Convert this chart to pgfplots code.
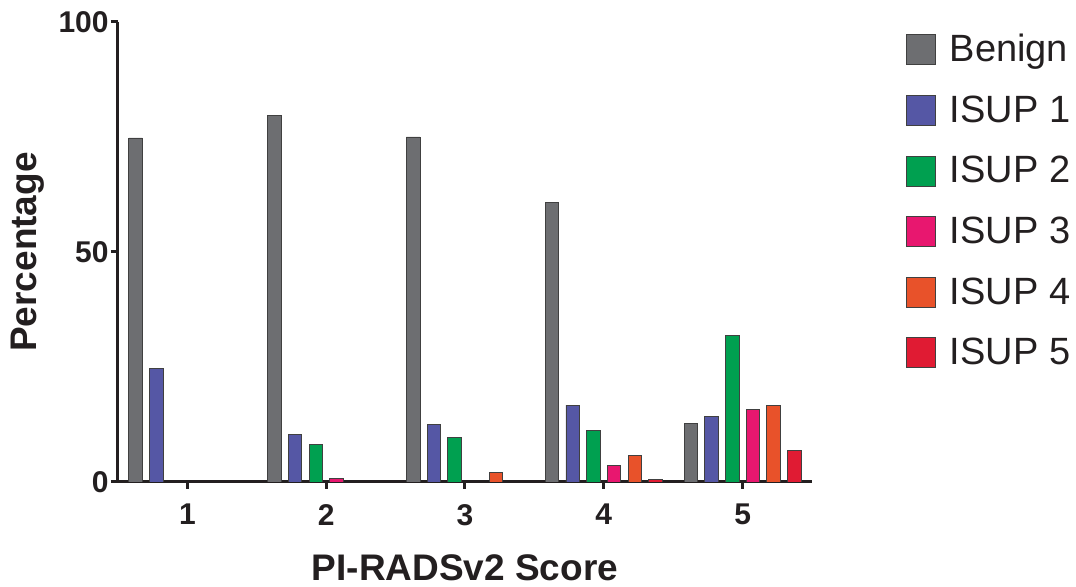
\documentclass[border=0pt]{standalone}
\usepackage{fontspec}
\setmainfont{Liberation Sans}
\usepackage{pgfplots}
\pgfplotsset{compat=1.18}
\definecolor{cBen}{HTML}{6D6E71}
\definecolor{cI1}{HTML}{5557A5}
\definecolor{cI2}{HTML}{00A050}
\definecolor{cI3}{HTML}{E8176F}
\definecolor{cI4}{HTML}{E8522A}
\definecolor{cI5}{HTML}{E01B33}
\definecolor{ink}{HTML}{231F20}
\definecolor{edge}{HTML}{404040}
\begin{document}
\begin{tikzpicture}
\useasboundingbox (-59pt,-52.5pt) rectangle (479pt,241pt);
\begin{axis}[
  scale only axis,
  width=347pt, height=230pt,
  xmin=0.5, xmax=5.5, ymin=0, ymax=100,
  axis lines*=left,
  axis line style={line width=1.5pt, color=ink},
  ybar=3.6pt, bar width=6.75pt,
  xtick={1,2,3,4,5},
  ytick={0,50,100},
  tick align=outside,
  major tick length=3.5pt,
  tick style={line width=1.5pt, color=ink},
  /pgf/number format/assume math mode=true,
  ticklabel style={font=\fontsize{15pt}{17pt}\selectfont\bfseries, text=ink},
  yticklabel style={inner sep=1pt},
  xticklabel style={yshift=-4pt},
  xlabel={PI-RADSv2 Score},
  ylabel={Percentage},
  label style={font=\fontsize{18.5pt}{21pt}\selectfont\bfseries, text=ink},
  xlabel style={at={(axis description cs:0.5,0)}, anchor=base, yshift=-49.5pt},
  ylabel style={at={(axis description cs:-0.13,0.5)}, anchor=center, rotate=0},
  every axis plot/.append style={draw=edge, line width=0.4pt},
  legend style={draw=none, fill=none, at={(1,1)}, anchor=north west, xshift=47pt, yshift=-4pt,
    font=\fontsize{19pt}{22pt}\selectfont, text=ink, row sep=11.5pt, inner sep=0pt,
    cells={anchor=west}},
  legend image code/.code={\draw[#1, line width=0.4pt] (0pt,-7.5pt) rectangle (14.5pt,7.5pt);
    \path[draw=none, fill=none] (0pt,0pt) rectangle (19.5pt,0pt);},
  legend cell align=left,
]
\addplot[fill=cBen] coordinates {(1,74.8) (2,79.6) (3,75.0) (4,60.8) (5,12.8)};
\addplot[fill=cI1] coordinates {(1,24.7) (2,10.3) (3,12.5) (4,16.7) (5,14.3)};
\addplot[fill=cI2] coordinates {(2,8.2) (3,9.6) (4,11.2) (5,31.9)};
\addplot[fill=cI3] coordinates {(2,0.8) (4,3.5) (5,15.7)};
\addplot[fill=cI4] coordinates {(3,2.0) (4,5.7) (5,16.7)};
\addplot[fill=cI5] coordinates {(4,0.65) (5,6.8)};
\legend{Benign, ISUP 1, ISUP 2, ISUP 3, ISUP 4, ISUP 5}
\end{axis}
\end{tikzpicture}
\end{document}
